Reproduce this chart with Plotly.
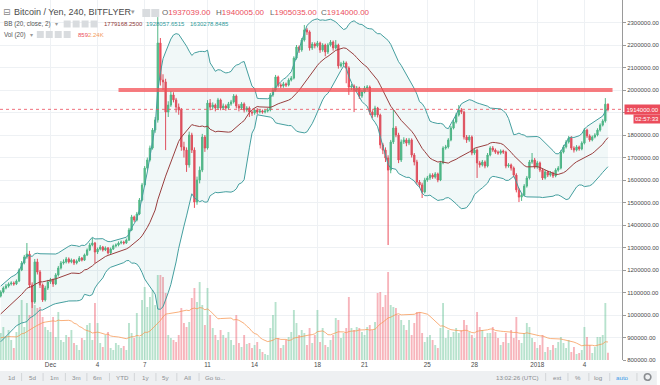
import pandas as pd
import plotly.graph_objects as go

# ---------------- data (4-hour bars, prices in thousand yen) ----------------
BAR_START = "2017-11-24 16:00"      # first warm-up bar; visible bars start 19 bars later
N_WARMUP = 19

# warm-up closes/volumes (needed only for BB(20) and Vol MA(20) at the left edge)
warmup_close_k = [900, 912, 925, 930, 945, 958, 965, 980, 992, 1003, 1012, 1022, 1035, 1046, 1055,
                  1066, 1075, 1082, 1090]
warmup_volume = [2600, 2300, 2900, 2500, 2200, 3100, 2700, 2400, 2800, 2500, 2300, 3000, 2600, 2900,
                 2400, 2700, 2500, 2800, 3100]

open_k = [1084, 1102, 1120, 1129, 1138, 1142, 1138, 1151, 1200, 1231, 1258, 1271, 1133, 1058, 1236, 1191, 1133, 1067, 1120,
          1147, 1156, 1138, 1178, 1209, 1231, 1236, 1249, 1236, 1244,
          1231, 1240, 1253, 1244, 1267, 1289, 1311, 1320, 1280, 1293,
          1302, 1289, 1298, 1276, 1293, 1307, 1311, 1320, 1324, 1320,
          1333, 1378, 1436, 1422, 1449, 1511, 1578, 1653, 1689, 1742,
          1822, 1867, 2209, 2044, 2036, 1902, 1933, 1978, 1956, 1924,
          1911, 1747, 1733, 1667, 1800, 1733, 1502, 1600, 1644, 1791,
          1742, 1942, 1924, 1933, 1920, 1956, 1920, 1929, 1920, 1938,
          1947, 1973, 1929, 1920, 1938, 1911, 1920, 1902, 1898, 1911,
          1902, 1907, 1902, 1907, 1911, 1978, 2000, 2058, 2022, 2018,
          2027, 2022, 2044, 2053, 2142, 2191, 2178, 2222, 2267, 2258,
          2187, 2204, 2196, 2209, 2178, 2200, 2169, 2200, 2213, 2187,
          2200, 2107, 2116, 2120, 2098, 2013, 2018, 2000, 2009, 1973,
          1991, 2009, 2013, 1902, 1889, 1920, 1889, 1756, 1733, 1698,
          1644, 1769, 1831, 1800, 1689, 1769, 1778, 1764, 1778, 1711,
          1680, 1591, 1578, 1547, 1600, 1609, 1622, 1613, 1627, 1600,
          1676, 1742, 1747, 1778, 1831, 1858, 1889, 1911, 1902, 1791,
          1778, 1791, 1720, 1733, 1676, 1667, 1680, 1662, 1711, 1742,
          1733, 1724, 1720, 1729, 1724, 1662, 1667, 1653, 1622, 1556,
          1524, 1533, 1573, 1609, 1680, 1689, 1658, 1676, 1644, 1609,
          1636, 1622, 1631, 1618, 1644, 1653, 1724, 1747, 1769, 1787,
          1742, 1733, 1747, 1738, 1764, 1822, 1796, 1778, 1791, 1800,
          1822, 1844, 1862, 1937.039]

high_k = [1110, 1127, 1138, 1145, 1150, 1149, 1158, 1207, 1240, 1267, 1320, 1285, 1145, 1249, 1250, 1200, 1140, 1130, 1156,
          1165, 1162, 1186, 1218, 1240, 1247, 1258, 1256, 1251, 1249,
          1247, 1262, 1258, 1273, 1296, 1320, 1342, 1325, 1300, 1311,
          1307, 1305, 1302, 1300, 1313, 1318, 1327, 1331, 1330, 1340,
          1387, 1445, 1442, 1458, 1520, 1587, 1662, 1700, 1753, 1831,
          1880, 2324, 2231, 2070, 2050, 1950, 1995, 1990, 1965, 1940,
          1920, 1770, 1745, 1815, 1810, 1745, 1615, 1660, 1805, 1800,
          1955, 1960, 1945, 1940, 1965, 1962, 1940, 1936, 1947, 1956,
          1982, 1980, 1938, 1946, 1945, 1928, 1927, 1910, 1918, 1920,
          1915, 1913, 1913, 1920, 1987, 2010, 2067, 2064, 2030, 2036,
          2033, 2052, 2062, 2150, 2200, 2198, 2231, 2289, 2276, 2265,
          2213, 2212, 2218, 2215, 2208, 2206, 2208, 2222, 2220, 2222,
          2206, 2125, 2130, 2127, 2105, 2027, 2025, 2018, 2015, 2000,
          2018, 2022, 2020, 1910, 1930, 1925, 1895, 1765, 1745, 1710,
          1778, 1911, 1840, 1810, 1780, 1790, 1786, 1787, 1785, 1720,
          1690, 1600, 1588, 1610, 1618, 1630, 1630, 1635, 1633, 1685,
          1750, 1756, 1786, 1840, 1867, 1898, 1933, 1920, 1908, 1800,
          1800, 1798, 1742, 1740, 1685, 1689, 1687, 1720, 1750, 1751,
          1740, 1731, 1736, 1735, 1730, 1675, 1673, 1660, 1630, 1565,
          1542, 1582, 1618, 1689, 1720, 1698, 1685, 1682, 1652, 1645,
          1642, 1640, 1637, 1652, 1662, 1733, 1756, 1778, 1796, 1795,
          1750, 1755, 1753, 1772, 1831, 1828, 1803, 1798, 1808, 1830,
          1852, 1870, 1964, 1940.005]

low_k = [1078, 1096, 1114, 1122, 1131, 1130, 1133, 1146, 1195, 1225, 1250, 1120, 1031, 1050, 1180, 1120, 1058, 1060, 1111,
         1138, 1125, 1133, 1171, 1202, 1224, 1229, 1229, 1230, 1222,
         1225, 1236, 1238, 1240, 1262, 1284, 1305, 1231, 1271, 1287,
         1282, 1284, 1269, 1271, 1289, 1300, 1305, 1314, 1313, 1316,
         1329, 1373, 1413, 1416, 1444, 1505, 1571, 1645, 1682, 1735,
         1810, 1855, 2020, 2000, 1733, 1880, 1925, 1945, 1900, 1890,
         1730, 1700, 1636, 1655, 1720, 1476, 1490, 1585, 1635, 1725,
         1735, 1910, 1915, 1905, 1912, 1910, 1912, 1908, 1913, 1930,
         1940, 1918, 1905, 1912, 1900, 1903, 1880, 1885, 1890, 1893,
         1896, 1895, 1896, 1900, 1905, 1970, 1993, 2012, 2008, 2010,
         2013, 2016, 2038, 2047, 2135, 2165, 2170, 2215, 2245, 2175,
         2178, 2185, 2189, 2165, 2170, 2150, 2160, 2193, 2175, 2180,
         2095, 2100, 2107, 2030, 1978, 2000, 1902, 1990, 1960, 1965,
         1985, 2000, 1890, 1876, 1880, 1878, 1740, 1715, 1680, 1311,
         1630, 1760, 1790, 1675, 1680, 1760, 1750, 1755, 1700, 1665,
         1580, 1565, 1520, 1540, 1592, 1600, 1605, 1606, 1590, 1595,
         1670, 1735, 1740, 1772, 1825, 1851, 1882, 1893, 1780, 1765,
         1770, 1710, 1712, 1609, 1655, 1660, 1652, 1656, 1705, 1725,
         1716, 1712, 1713, 1716, 1652, 1655, 1642, 1612, 1545, 1502,
         1507, 1527, 1566, 1602, 1672, 1650, 1650, 1635, 1600, 1602,
         1613, 1615, 1609, 1612, 1637, 1647, 1718, 1740, 1762, 1733,
         1722, 1727, 1730, 1732, 1758, 1787, 1770, 1772, 1785, 1794,
         1815, 1838, 1855, 1905.035]

close_k = [1102, 1120, 1129, 1138, 1142, 1138, 1151, 1200, 1231, 1258, 1271, 1133, 1058, 1236, 1191, 1133, 1067, 1120, 1147,
           1156, 1138, 1178, 1209, 1231, 1236, 1249, 1236, 1244, 1231,
           1240, 1253, 1244, 1267, 1289, 1311, 1320, 1280, 1293, 1302,
           1289, 1298, 1276, 1293, 1307, 1311, 1320, 1324, 1320, 1333,
           1378, 1436, 1422, 1449, 1511, 1578, 1653, 1689, 1742, 1822,
           1867, 2209, 2044, 2036, 1902, 1933, 1978, 1956, 1924, 1911,
           1747, 1733, 1667, 1800, 1733, 1502, 1600, 1644, 1791, 1742,
           1942, 1924, 1933, 1920, 1956, 1920, 1929, 1920, 1938, 1947,
           1973, 1929, 1920, 1938, 1911, 1920, 1902, 1898, 1911, 1902,
           1907, 1902, 1907, 1911, 1978, 2000, 2058, 2022, 2018, 2027,
           2022, 2044, 2053, 2142, 2191, 2178, 2222, 2267, 2258, 2187,
           2204, 2196, 2209, 2178, 2200, 2169, 2200, 2213, 2187, 2200,
           2107, 2116, 2120, 2098, 2013, 2018, 2000, 2009, 1973, 1991,
           2009, 2013, 1902, 1889, 1920, 1889, 1756, 1733, 1698, 1644,
           1769, 1831, 1800, 1689, 1769, 1778, 1764, 1778, 1711, 1680,
           1591, 1578, 1547, 1600, 1609, 1622, 1613, 1627, 1600, 1676,
           1742, 1747, 1778, 1831, 1858, 1889, 1911, 1902, 1791, 1778,
           1791, 1720, 1733, 1676, 1667, 1680, 1662, 1711, 1742, 1733,
           1724, 1720, 1729, 1724, 1662, 1667, 1653, 1622, 1556, 1524,
           1533, 1573, 1609, 1680, 1689, 1658, 1676, 1644, 1609, 1636,
           1622, 1631, 1618, 1644, 1653, 1724, 1747, 1769, 1787, 1742,
           1733, 1747, 1738, 1764, 1822, 1796, 1778, 1791, 1800, 1822,
           1844, 1862, 1937.039, 1914]

volume = [3240, 3960, 2760, 3600, 2400, 1440, 3360, 5400, 7200, 3960, 6840, 5400, 7200, 6600, 6240, 6360, 5160, 3960, 3600,
          3360, 5160, 2760, 5760, 2400, 2160, 3000, 2760, 3600, 2040,
          1800, 1200, 2640, 2400, 4200, 4440, 2400, 6840, 4440, 2040,
          1560, 3000, 3360, 1440, 1200, 2040, 1800, 1440, 1680, 1200,
          4440, 3240, 2640, 5640, 2760, 7200, 8760, 6360, 7560, 8400,
          6600, 10200, 10200, 9960, 8040, 3000, 2640, 2400, 2160, 3000,
          6240, 4440, 3960, 4560, 7440, 8640, 6960, 9360, 6600, 4200,
          8640, 5400, 3840, 3000, 2400, 3600, 3000, 2640, 3360, 2400,
          1800, 5400, 2040, 1560, 3000, 1920, 2040, 1440, 1800, 2160,
          1320, 960, 720, 600, 3840, 5400, 6960, 2640, 1440, 1800,
          2400, 2760, 3360, 6000, 4440, 3000, 3600, 3240, 1800, 3840,
          2040, 3000, 6000, 2160, 3840, 1800, 1560, 2400, 3000, 5040,
          4800, 2640, 3240, 3840, 7560, 3840, 3600, 3960, 3840, 3360,
          3000, 3960, 4200, 3600, 4560, 8040, 8160, 6360, 7800, 10560,
          6600, 6360, 6240, 5400, 4800, 4200, 3600, 4800, 3000, 4440,
          5760, 5760, 3240, 2160, 2760, 3000, 2400, 1800, 1440, 3840,
          6840, 2640, 3600, 2760, 3360, 3840, 3240, 3600, 4800, 4200,
          3360, 3000, 2640, 5760, 3960, 3600, 2760, 3240, 3240, 3960,
          3360, 2640, 1800, 2160, 3240, 2040, 3600, 2640, 5160, 2400,
          2040, 3240, 4440, 3960, 2640, 2160, 1440, 1800, 3000, 960,
          1560, 1200, 1800, 1440, 2160, 2760, 2040, 1440, 2400, 960,
          1560, 720, 840, 1200, 3960, 2760, 1800, 840, 1560, 2760,
          2760, 3000, 6840, 859]

price_ticks = [800000, 900000, 1000000, 1100000, 1200000, 1300000, 1400000, 1500000, 1600000,
               1700000, 1800000, 1900000, 2000000, 2100000, 2200000, 2300000]
# the 1900000 label sits under the last-price tag in the original, so it is left blank
price_tick_text = ["800000.00", "900000.00", "1000000.00", "1100000.00", "1200000.00", "1300000.00",
                   "1400000.00", "1500000.00", "1600000.00", "1700000.00", "1800000.00", "",
                   "2000000.00", "2100000.00", "2200000.00", "2300000.00"]
date_tick_vals = ["2017-12-01", "2017-12-04", "2017-12-07", "2017-12-11", "2017-12-14", "2017-12-18",
                  "2017-12-21", "2017-12-25", "2017-12-28", "2018-01-01", "2018-01-04"]
date_tick_text = ["Dec", "4", "7", "11", "14", "18", "21", "25", "28", "2018", "4"]

resistance_level = 2000000
last_price = 1914000

# ---------------- derived series ----------------
K = 1000
times = pd.date_range(BAR_START, periods=N_WARMUP + len(close_k), freq="4h")
t_vis = times[N_WARMUP:]
o = [v * K for v in open_k]
h = [v * K for v in high_k]
l = [v * K for v in low_k]
c = [v * K for v in close_k]

closes_all = pd.Series([v * K for v in warmup_close_k + close_k])
bb_mid = closes_all.rolling(20).mean()
bb_sd = closes_all.rolling(20).std(ddof=0)
bb_up = (bb_mid + 2 * bb_sd)[N_WARMUP:]
bb_lo = (bb_mid - 2 * bb_sd)[N_WARMUP:]
bb_mid = bb_mid[N_WARMUP:]
vol_ma = pd.Series(warmup_volume + volume).rolling(20).mean()[N_WARMUP:]

UP, DN = "#53b987", "#eb4d5c"
vol_colors = ["rgba(83,185,135,0.42)" if cc >= oo else "rgba(235,77,92,0.42)" for oo, cc in zip(o, c)]

FONT = "Liberation Sans, Arial, sans-serif"
W, H = 660, 385
PW, PH = 625, 360


def px(x):
    return x / PW


def py(y):
    return 1 - y / PH


fig = go.Figure()
fig.add_trace(go.Bar(x=t_vis, y=volume, marker=dict(color=vol_colors, line=dict(width=0)),
                     width=4 * 3600 * 1000 * 0.72, yaxis="y", hoverinfo="skip"))
fig.add_trace(go.Scatter(x=t_vis, y=vol_ma, mode="lines", line=dict(color="rgba(247,150,80,0.75)", width=1),
                         yaxis="y", hoverinfo="skip"))
fig.add_trace(go.Scatter(x=t_vis, y=bb_up, mode="lines", line=dict(color="#449f9f", width=1), yaxis="y2"))
fig.add_trace(go.Scatter(x=t_vis, y=bb_lo, mode="lines", line=dict(color="#449f9f", width=1),
                         fill="tonexty", fillcolor="rgba(0,128,128,0.055)", yaxis="y2"))
fig.add_trace(go.Scatter(x=t_vis, y=bb_mid, mode="lines", line=dict(color="#993f3f", width=1), yaxis="y2"))
fig.add_trace(go.Candlestick(x=t_vis, open=o, high=h, low=l, close=c, yaxis="y2",
                             increasing=dict(line=dict(color=UP, width=1), fillcolor=UP),
                             decreasing=dict(line=dict(color=DN, width=1), fillcolor=DN),
                             whiskerwidth=0))

x_lo = pd.Timestamp("2017-12-01") - pd.Timedelta(days=3.213)
x_hi = pd.Timestamp("2017-12-01") + pd.Timedelta(days=36.394)

shapes = []
# bottom toolbar
shapes.append(dict(type="rect", xref="paper", yref="paper", x0=0, x1=px(W), y0=py(H), y1=py(371),
                   fillcolor="#eef0f2", line=dict(width=0), layer="below"))
# resistance line
shapes.append(dict(type="line", xref="x", yref="y2", x0="2017-12-05 08:00", x1="2018-01-05 19:00",
                   y0=resistance_level, y1=resistance_level,
                   line=dict(color="rgba(244,80,86,0.75)", width=4)))
# last price dotted line
shapes.append(dict(type="line", xref="paper", yref="y2", x0=0, x1=1, y0=last_price, y1=last_price,
                   line=dict(color="rgba(235,77,92,0.8)", width=1, dash="dot")))
# legend icons
for (x0, y0, y1) in [(143, 9, 17), (152, 9, 17)] + [(xx, 20.5, 27.5) for xx in (64, 73, 82, 91)] + \
        [(xx, 31, 38) for xx in (37, 46, 55, 64)]:
    w = 7 if y1 - y0 < 8 else 8
    shapes.append(dict(type="rect", xref="paper", yref="paper", x0=px(x0), x1=px(x0 + w), y0=py(y1), y1=py(y0),
                       fillcolor="#d9dcdf", line=dict(width=0)))
# toolbar separators
for xs in [21.7, 43.3, 65.7, 87.3, 110, 135, 156.7, 177.7, 200, 548.3, 570.7, 591.7, 612.7, 640]:
    shapes.append(dict(type="line", xref="paper", yref="paper", x0=px(xs), x1=px(xs), y0=py(381), y1=py(373),
                       line=dict(color="#d2d5d8", width=1)))
# settings gear (drawn as a small ring)
shapes.append(dict(type="circle", xref="paper", yref="paper", x0=px(647.5), x1=px(654), y0=py(380.3),
                   y1=py(373.8), line=dict(color="#8a8d91", width=1.6), fillcolor="rgba(0,0,0,0)"))

ann = []


def txt(x, y, s, size=6, color="#555", anchor="left", bg=None, pad=0, family=FONT):
    d = dict(xref="paper", yref="paper", x=px(x), y=py(y), text=s, showarrow=False, xanchor=anchor,
             yanchor="middle", font=dict(family=family, size=size, color=color), borderpad=pad)
    if bg:
        d["bgcolor"] = bg
    ann.append(d)


red = "#eb4d5c"
txt(2, 12.5, "⊟", 9, "#888", family="DejaVu Sans")
txt(13, 12.5, "Bitcoin / Yen, 240, BITFLYER", 9, "#4a4a4a")
txt(131, 12.5, "▾", 7, "#999", family="DejaVu Sans")
txt(162, 12.5, f"O<span style='color:{red}'>1937039.00</span>", 8, "#666")
txt(216, 12.5, f"H<span style='color:{red}'>1940005.00</span>", 8, "#666")
txt(270, 12.5, f"L<span style='color:{red}'>1905035.00</span>", 8, "#666")
txt(322, 12.5, f"C<span style='color:{red}'>1914000.00</span>", 8, "#666")

txt(3, 24, "BB (20, close, 2)", 6.3, "#555")
txt(54, 24, "▾", 6, "#999", family="DejaVu Sans")
txt(103, 24, "1779168.2500", 6, "#8e3a3a")
txt(146, 24, "1928057.6515", 6, "#2f9a9a")
txt(190, 24, "1630278.8485", 6, "#2f9a9a")

txt(3, 35, "Vol (20)", 6.3, "#555")
txt(29, 35, "▾", 6, "#999", family="DejaVu Sans")
txt(77, 35, "859", 6, red)
txt(87, 35, "2.24K", 6, "#f39a5a")

# price & countdown labels on the right axis
ann.append(dict(xref="paper", yref="y2", x=px(627), y=last_price, text="1914000.00", showarrow=False,
                xanchor="left", yanchor="middle", bgcolor=red, borderpad=1.5,
                font=dict(family=FONT, size=6, color="white")))
ann.append(dict(xref="paper", yref="paper", x=px(636), y=py(119.5), text="02:57:33", showarrow=False,
                xanchor="left", yanchor="middle", bgcolor=red, borderpad=1,
                font=dict(family=FONT, size=6, color="white")))

# toolbar
for xc, s in [(11.7, "1d"), (32.3, "5d"), (54.3, "1m"), (76.7, "3m"), (98.3, "6m"), (122.7, "YTD"),
              (145.7, "1y"), (166.7, "5y"), (188.3, "All"), (216.7, "Go to..."),
              (520, "13:02:26 (UTC)"), (560, "ext"), (580.7, "%"), (601.7, "log")]:
    txt(xc, 377, s, 6.2, "#8a8d91", anchor="center")
txt(626, 377, "auto", 6.2, "#3d9be9", anchor="center")

fig.update_layout(
    width=W, height=H, margin=dict(l=0, r=W - PW, t=0, b=H - PH),
    paper_bgcolor="white", plot_bgcolor="white", showlegend=False,
    font=dict(family=FONT, size=6, color="#4a4a4a"),
    xaxis=dict(type="date", range=[x_lo, x_hi], rangeslider=dict(visible=False),
               tickvals=date_tick_vals, ticktext=date_tick_text, showgrid=True, gridcolor="#eef1f4",
               gridwidth=1, ticks="", showline=False, zeroline=False,
               tickfont=dict(size=6.3, color="#4a4a4a")),
    yaxis=dict(range=[0, 43200], visible=False, fixedrange=True),
    yaxis2=dict(overlaying="y", side="right", range=[800000, 2400000], tickvals=price_ticks,
                ticktext=price_tick_text, showgrid=True, gridcolor="#eef1f4",
                ticks="outside", ticklen=3, tickcolor="#9a9a9a", showline=True, linecolor="#9a9a9a",
                linewidth=1, zeroline=False, tickfont=dict(size=6, color="#4a4a4a")),
    shapes=shapes, annotations=ann,
)

# remove the default page margin so the 660x385 figure fills the window exactly
fig.write_html("out.html", config={"displayModeBar": False},
               post_script="document.body.style.margin='0';")
